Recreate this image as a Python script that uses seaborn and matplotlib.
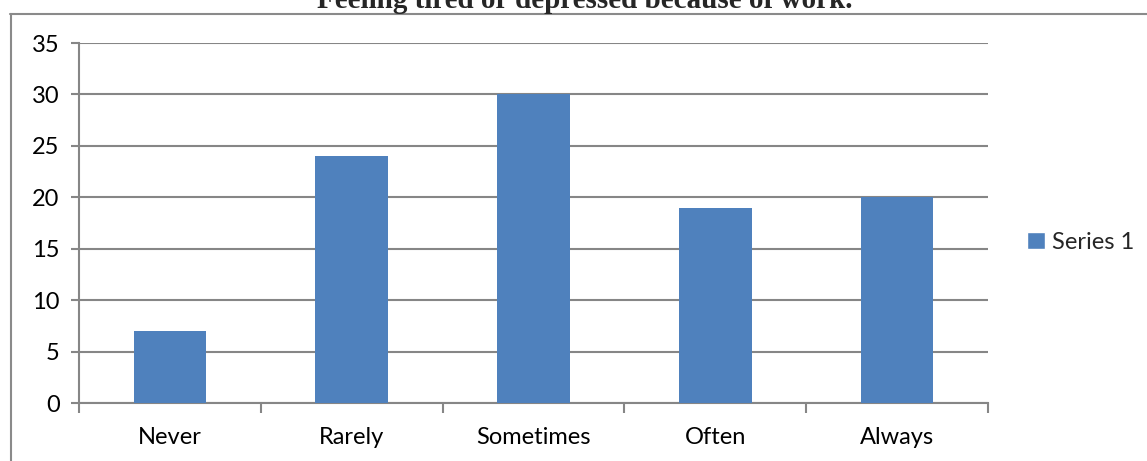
import matplotlib
matplotlib.use("Agg")
import matplotlib.pyplot as plt
from matplotlib.lines import Line2D
from matplotlib.patches import Patch
import seaborn as sns
import pandas as pd

categories = ["Never", "Rarely", "Sometimes", "Often", "Always"]
values = [7, 24, 30, 19, 20]
series_name = "Series 1"
title = "Feeling tired or depressed because of work."

sns.set_theme(style="white")
plt.rcParams["font.family"] = ["Lato", "DejaVu Sans"]

W, H = 1147, 461
fig = plt.figure(figsize=(W / 100, H / 100), dpi=100)
ax = fig.add_axes([79 / W, 1 - 403 / H, (988 - 79) / W, (403 - 43) / H])

df = pd.DataFrame({"category": categories, "value": values})
bar_color = "#4F81BD"
sns.barplot(data=df, x="category", y="value", color=bar_color, width=0.4,
            saturation=1, linewidth=0, ax=ax, zorder=3)

grid_color = "#868686"
ax.set_ylim(0, 35)
ax.set_xlim(-0.5, len(categories) - 0.5)
ax.set_yticks(range(0, 36, 5))
ax.yaxis.grid(True, color=grid_color, linewidth=1.5, zorder=0)
ax.set_axisbelow(True)
ax.set_xlabel("")
ax.set_ylabel("")

for side in ("top", "right"):
    ax.spines[side].set_visible(False)
for side in ("left", "bottom"):
    ax.spines[side].set_color(grid_color)
    ax.spines[side].set_linewidth(1.5)

label_size = 17
ax.tick_params(axis="y", which="major", direction="out", length=6, width=1.5,
               color=grid_color, labelsize=label_size, pad=8, left=True)
ax.tick_params(axis="x", which="major", length=0, labelsize=label_size, pad=17)
ax.set_xticks([i - 0.5 for i in range(len(categories) + 1)], minor=True)
ax.tick_params(axis="x", which="minor", direction="out", length=7, width=1.5,
               color=grid_color, bottom=True)
for lbl in ax.get_xticklabels() + ax.get_yticklabels():
    lbl.set_color("#000000")

ax.legend(handles=[Patch(facecolor=bar_color, label=series_name)],
          loc="center left", bbox_to_anchor=(1.0275, 0.447), frameon=False,
          fontsize=label_size, handlelength=0.75, handleheight=0.75,
          handletextpad=0.3, borderaxespad=0.2)

fig.text(585 / W, 1 - 8 / H, title, ha="center", va="baseline",
         fontsize=21, fontweight="bold",
         family=["Liberation Serif", "DejaVu Serif"])

# outer frame (left and top edges)
fig.add_artist(Line2D([10.5 / W, 10.5 / W], [0, 1 - 14 / H],
                      transform=fig.transFigure, color="#8a8a8a", linewidth=1.5))
fig.add_artist(Line2D([10 / W, 1], [1 - 14 / H, 1 - 14 / H],
                      transform=fig.transFigure, color="#8a8a8a", linewidth=1.5))

fig.savefig("out.png", dpi=100, facecolor="white")
